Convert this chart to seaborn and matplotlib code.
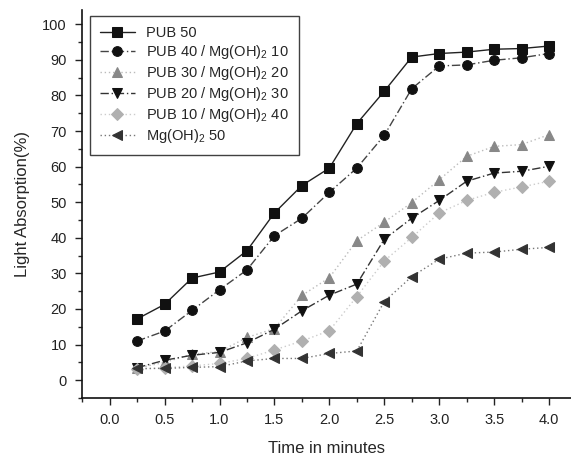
import pandas as pd
import seaborn as sns
import matplotlib.pyplot as plt
from matplotlib.ticker import MultipleLocator

# time points (minutes)
time = [0.25, 0.5, 0.75, 1.0, 1.25, 1.5, 1.75, 2.0, 2.25, 2.5, 2.75, 3.0, 3.25, 3.5, 3.75, 4.0]

pub50 = [17.2, 21.3, 28.7, 30.4, 36.4, 47.0, 54.7, 59.6, 72.1, 81.2, 90.8, 91.8, 92.2, 93.0, 93.2, 93.9]
pub40 = [11.0, 13.8, 19.6, 25.4, 31.0, 40.6, 45.5, 52.8, 59.6, 68.8, 81.9, 88.3, 88.6, 89.9, 90.6, 91.8]
pub30 = [3.4, 5.0, 7.3, 8.0, 12.0, 14.5, 23.8, 28.8, 39.2, 44.4, 49.9, 56.3, 62.9, 65.7, 66.2, 69.0]
pub20 = [3.5, 5.6, 7.0, 7.8, 10.5, 14.3, 19.5, 23.9, 27.0, 39.6, 45.5, 50.5, 55.9, 58.2, 58.7, 60.1]
pub10 = [3.0, 3.5, 4.0, 4.7, 6.1, 8.5, 11.0, 13.9, 23.5, 33.5, 40.1, 47.0, 50.5, 52.8, 54.3, 55.9]
mg50 = [3.3, 3.3, 3.6, 3.8, 5.4, 6.1, 6.1, 7.5, 8.2, 22.1, 29.1, 34.0, 35.7, 36.0, 36.8, 37.3]

labels = ["PUB 50", "PUB 40 / Mg(OH)$_2$ 10", "PUB 30 / Mg(OH)$_2$ 20",
          "PUB 20 / Mg(OH)$_2$ 30", "PUB 10 / Mg(OH)$_2$ 40", "Mg(OH)$_2$ 50"]
series = [pub50, pub40, pub30, pub20, pub10, mg50]

rows = []
for lab, vals in zip(labels, series):
    for t, v in zip(time, vals):
        rows.append({"time": t, "absorption": v, "sample": lab})
df = pd.DataFrame(rows)

sns.set_style("ticks")
plt.rcParams['font.family'] = ['Liberation Sans', 'DejaVu Sans']
plt.rcParams['mathtext.fontset'] = 'custom'
plt.rcParams['mathtext.rm'] = 'Liberation Sans'
plt.rcParams['mathtext.it'] = 'Liberation Sans'

# marker, marker colour, line colour, line style
styles = {
    labels[0]: ("s", "#111111", "#222222", "-"),
    labels[1]: ("o", "#111111", "#444444", (0, (6, 2, 1, 2))),
    labels[2]: ("^", "#888888", "#bbbbbb", (0, (1, 2))),
    labels[3]: ("v", "#111111", "#333333", (0, (6, 2, 1, 2))),
    labels[4]: ("D", "#b0b0b0", "#cccccc", (0, (1, 2))),
    labels[5]: ("<", "#333333", "#777777", (0, (1, 2))),
}

fig = plt.figure(figsize=(5.71, 4.59), dpi=100)
ax = fig.add_axes([0.144, 0.133, 0.856, 0.845])

for lab in labels:
    m, mc, lc, ls = styles[lab]
    sub = df[df["sample"] == lab]
    sns.lineplot(data=sub, x="time", y="absorption", ax=ax, color=lc,
                 linestyle=ls, linewidth=1.0, marker=m, markersize=7 if m != "D" else 6,
                 markerfacecolor=mc, markeredgecolor=mc, label=lab)

ax.set_xlim(-0.25, 4.2)
ax.set_ylim(-5, 104)
ax.xaxis.set_major_locator(MultipleLocator(0.5))
ax.xaxis.set_minor_locator(MultipleLocator(0.25))
ax.yaxis.set_major_locator(MultipleLocator(10))
ax.yaxis.set_minor_locator(MultipleLocator(5))
ax.xaxis.set_major_formatter(plt.FuncFormatter(lambda v, p: f"{v:.1f}"))
ax.set_xticks([i * 0.5 for i in range(9)])
ax.tick_params(which="major", direction="out", length=5, width=1, labelsize=10.5,
               colors="#222222", pad=6)
ax.tick_params(which="minor", direction="out", length=3, width=1)
sns.despine(ax=ax)
for s in ["left", "bottom"]:
    ax.spines[s].set_color("#111111")
    ax.spines[s].set_linewidth(1.2)

ax.set_xlabel("Time in minutes", fontsize=12, labelpad=10)
ax.set_ylabel("Light Absorption(%)", fontsize=12, labelpad=9)

leg = ax.legend(loc="upper left", bbox_to_anchor=(0.015, 0.985), fontsize=10.5,
                frameon=True, fancybox=False, edgecolor="#111111", handlelength=2.4,
                labelspacing=0.2, borderpad=0.7, borderaxespad=0)
leg.get_frame().set_linewidth(1.0)

fig.savefig("out.png", dpi=100)
